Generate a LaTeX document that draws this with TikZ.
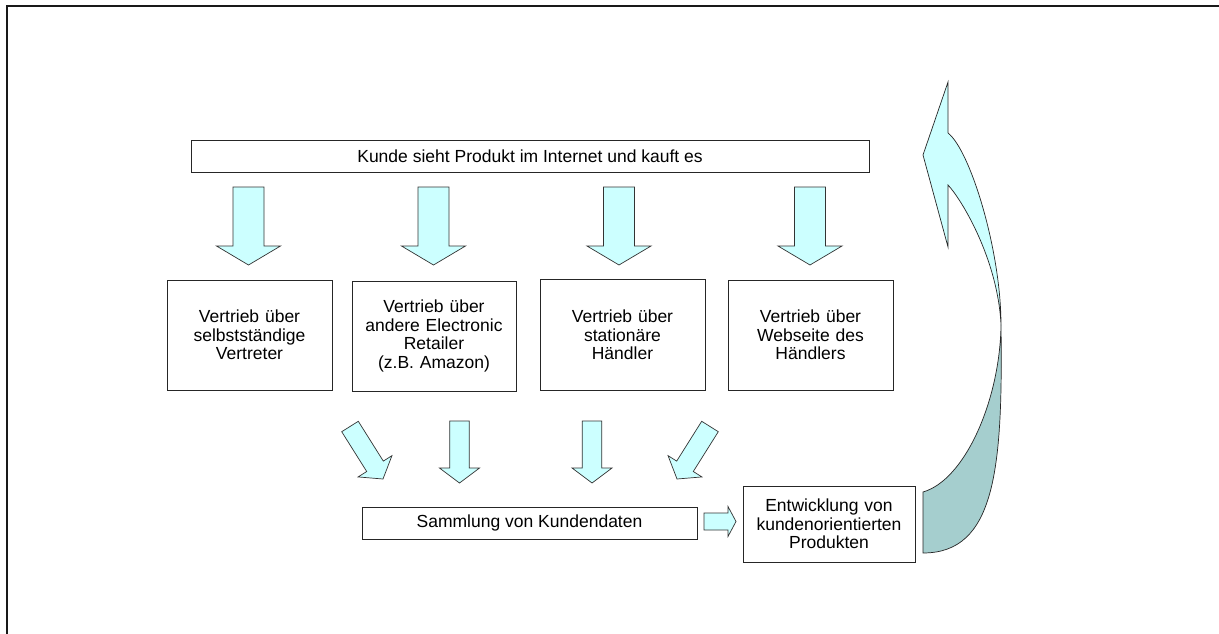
\documentclass[tikz,border=0pt]{standalone}
\usepackage{fontspec}
\setmainfont{Liberation Sans}
\usetikzlibrary{calc}
\definecolor{lcyan}{HTML}{CCFFFF}
\definecolor{darkteal}{HTML}{A5CECE}
\newcommand\blockarr[5]{%
  \coordinate (bA) at (#1);
  \coordinate (bB) at (#2);
  \coordinate (bH) at ($(bB)!#5!(bA)$);
  \filldraw[blockarrsty] ($(bA)!#3!90:(bB)$) -- ($(bH)!#3!90:(bB)$) -- ($(bH)!#4!90:(bB)$) -- (bB)
    -- ($(bH)!#4!-90:(bB)$) -- ($(bH)!#3!-90:(bB)$) -- ($(bA)!#3!-90:(bB)$) -- cycle;}
\begin{document}
\begin{tikzpicture}[x=1pt,y=-1pt,
  box/.style={draw=black!85, line width=0.8pt, fill=white, align=center, inner sep=0pt,
    font=\fontsize{17.5}{18.6}\selectfont},
  blockarrsty/.style={fill=lcyan, draw=black!80, line width=0.7pt, line join=miter},
  curvesty/.style={draw=black!85, line width=0.7pt}]
\useasboundingbox (0,0) rectangle (1219,634);
\fill[white] (0,0) rectangle (1219,634);
% frame
\draw[line width=1.6pt, black!90] (7,640) -- (7,6) -- (1225,6);

% nodes
\node[box, minimum width=678pt, minimum height=32pt] (kunde) at (530,156)
  {Kunde sieht Produkt im Internet und kauft es};
\node[box, minimum width=165pt, minimum height=110pt, text width=162pt] (v1) at (249.5,335)
  {Vertrieb über\\selbstständige\\Vertreter};
\node[box, minimum width=164pt, minimum height=110pt, text width=162pt] (v2) at (434,336)
  {Vertrieb über\\andere Electronic\\Retailer\\(z.B. Amazon)};
\node[box, minimum width=165pt, minimum height=111pt, text width=162pt] (v3) at (622.5,335)
  {Vertrieb über\\stationäre\\Händler};
\node[box, minimum width=165pt, minimum height=110pt, text width=162pt] (v4) at (810.5,335)
  {Vertrieb über\\Webseite des\\Händlers};
\node[box, minimum width=335pt, minimum height=32pt] (samm) at (529.5,523)
  {Sammlung von Kundendaten};
\node[box, minimum width=172pt, minimum height=76pt, text width=170pt] (entw) at (829,524)
  {Entwicklung von\\kundenorientierten\\Produkten};

% top block arrows
\coordinate (t1a) at (248.5,187); \coordinate (t1b) at (248.5,265);
\coordinate (t2a) at (433.5,187); \coordinate (t2b) at (433.5,265);
\coordinate (t3a) at (619,187);   \coordinate (t3b) at (619,265);
\coordinate (t4a) at (810,187);   \coordinate (t4b) at (810,265);
\blockarr{t1a}{t1b}{15.5pt}{32pt}{19pt}
\blockarr{t2a}{t2b}{15.5pt}{32pt}{19pt}
\blockarr{t3a}{t3b}{15.5pt}{32pt}{19pt}
\blockarr{t4a}{t4b}{15.5pt}{32pt}{19pt}

% bottom block arrows
\coordinate (d1a) at (350,426.5); \coordinate (d1b) at (383,479);
\coordinate (d2a) at (459.5,421); \coordinate (d2b) at (459.5,483);
\coordinate (d3a) at (592,421);   \coordinate (d3b) at (592,483);
\coordinate (d4a) at (710,426.5); \coordinate (d4b) at (677,479);
\blockarr{d1a}{d1b}{9.8pt}{20pt}{15pt}
\blockarr{d2a}{d2b}{9.8pt}{20pt}{15pt}
\blockarr{d3a}{d3b}{9.8pt}{20pt}{15pt}
\blockarr{d4a}{d4b}{9.8pt}{20pt}{15pt}

% arrow Sammlung -> Entwicklung
\coordinate (ra) at (704,521.5); \coordinate (rb) at (736,521.5);
\blockarr{ra}{rb}{8.5pt}{15pt}{8pt}

% curved arrow
\filldraw[curvesty, fill=darkteal] (1001,325) .. controls (1003,470) and (995,553) .. (923,553)
  -- (923,492) .. controls (965,480) and (1000,400) .. (1001,325) -- cycle;
\filldraw[curvesty, fill=lcyan, line join=miter] (948,82) -- (923,155) -- (948,247) -- (948,185)
  .. controls (962,200) and (998,260) .. (1001,325)
  .. controls (1001,250) and (970,150) .. (948,133) -- cycle;
\end{tikzpicture}
\end{document}
